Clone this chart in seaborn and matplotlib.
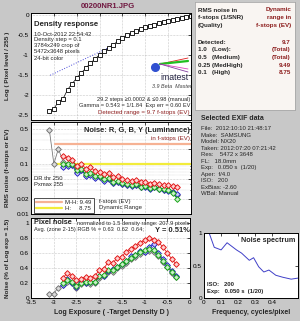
import numpy as np
import pandas as pd
import matplotlib
matplotlib.use("Agg")
import matplotlib.pyplot as plt
import seaborn as sns
from matplotlib.lines import Line2D
from matplotlib.ticker import FixedLocator, FuncFormatter, NullFormatter

nan = np.nan

# ---- data ----
log_exp = [-3.1, -3.0, -2.9, -2.8, -2.7, -2.6, -2.5, -2.4, -2.3, -2.2, -2.1, -2.0,
           -1.9, -1.8, -1.7, -1.6, -1.5, -1.4, -1.3, -1.2, -1.1, -1.0, -0.9, -0.8,
           -0.7, -0.6, -0.5, -0.4, -0.3, -0.2, -0.1, 0.0]
density = [-2.40, -2.35, -2.17, -2.10, -1.87, -1.72, -1.58, -1.45, -1.33, -1.21, -1.10, -1.00,
           -0.91, -0.82, -0.74, -0.66, -0.58, -0.51, -0.45, -0.40, -0.35, -0.31, -0.27, -0.24,
           -0.21, -0.18, -0.15, -0.12, -0.10, -0.07, -0.05, -0.02]
fit_x = [-3.08, -1.77]
fit_y = [-1.51, -0.80]

noise_x = log_exp[:29]
rms_y = [0.48, 0.10, 0.20, 0.11, 0.10, 0.095, 0.07, 0.075, 0.06, 0.062, 0.055, 0.055, 0.048,
         0.050, 0.042, 0.043, 0.040, 0.038, 0.037, 0.038, 0.035, 0.036, 0.033, 0.034, 0.032,
         0.030, 0.030, 0.028, 0.024]
rms_r = [nan, nan, nan, 0.145, 0.13, 0.12, 0.09, 0.10, 0.08, 0.085, 0.072, 0.07, 0.063, 0.066,
         0.055, 0.056, 0.050, 0.048, 0.046, 0.047, 0.043, 0.044, 0.040, 0.042, 0.040, 0.038,
         0.037, 0.036, 0.035]
rms_g = [nan, nan, nan, 0.10, 0.10, 0.10, 0.075, 0.078, 0.062, 0.066, 0.057, 0.057, 0.050, 0.052,
         0.044, 0.045, 0.041, 0.039, 0.038, 0.039, 0.035, 0.036, 0.033, 0.035, 0.032, 0.031,
         0.030, 0.026, 0.020]
rms_b = [nan, nan, nan, 0.085, 0.09, 0.095, 0.065, 0.075, 0.058, 0.060, 0.052, 0.055, 0.046, 0.050,
         0.041, 0.043, 0.039, 0.037, 0.036, 0.038, 0.034, 0.035, 0.032, 0.034, 0.031, 0.030,
         0.029, 0.027, 0.025]
thr_x = [-2.97, 0.0]
thr_mh = [0.25, 0.25]
thr_h = [0.1, 0.1]

pct_y = [0.05, 0.06, 0.14, 0.17, 0.22, 0.20, 0.14, 0.19, 0.20, 0.19, 0.20, 0.27, 0.29, 0.35,
         0.35, 0.40, 0.43, 0.47, 0.52, 0.55, 0.59, 0.61, 0.63, 0.62, 0.56, 0.48, 0.41, 0.34, 0.28]
pct_r = [nan, nan, nan, 0.27, 0.33, 0.30, 0.24, 0.26, 0.28, 0.27, 0.29, 0.37, 0.39, 0.48, 0.47,
         0.53, 0.55, 0.62, 0.66, 0.70, 0.74, 0.77, 0.80, 0.78, 0.75, 0.68, 0.60, 0.52, 0.45]
pct_g = [nan, nan, nan, 0.20, 0.24, 0.22, 0.16, 0.20, 0.22, 0.21, 0.22, 0.29, 0.31, 0.38, 0.37,
         0.42, 0.45, 0.50, 0.54, 0.58, 0.62, 0.64, 0.66, 0.64, 0.58, 0.50, 0.42, 0.35, 0.28]
pct_b = [nan, nan, nan, 0.18, 0.25, 0.20, 0.15, 0.21, 0.20, 0.22, 0.21, 0.30, 0.30, 0.36, 0.39,
         0.41, 0.46, 0.49, 0.56, 0.57, 0.63, 0.62, 0.68, 0.72, 0.60, 0.52, 0.44, 0.36, 0.30]

freq = [0.0, 0.03, 0.06, 0.10, 0.135, 0.19, 0.22, 0.265, 0.29, 0.32, 0.35, 0.38, 0.42, 0.46, 0.51, 0.56]
spectrum = [1.30, 1.0, 0.78, 0.74, 0.85, 0.74, 0.69, 0.58, 0.62, 0.48, 0.40, 0.43, 0.35, 0.32, 0.29, 0.31]

exif_lines = ["File:  2012:10:10 21:48:17", "Make:  SAMSUNG", "Model: NX20",
              "Taken: 2012:07:20 07:21:42", "Res:    5472 x 3648", "FL:   18.0mm",
              "Exp:   0.050 s  (1/20)", "Aper:  f/4.0", "ISO:   200", "ExBias: -2.60",
              "WBal: Manual"]

# ---- style ----
sns.set_theme(style="white")
plt.rcParams["font.family"] = ["Liberation Sans", "DejaVu Sans"]
W, H = 300, 321
BG = "#c8c8c8"
DKRED = "#8c1c1c"

fig = plt.figure(figsize=(W / 100, H / 100), dpi=100, facecolor=BG)


def box(x0, y0, x1, y1):
    return [x0 / W, 1 - y1 / H, (x1 - x0) / W, (y1 - y0) / H]


def put(x, y, s, **kw):
    kw.setdefault("fontsize", 4.3)
    kw.setdefault("va", "center")
    fig.text(x / W, 1 - y / H, s, **kw)


def style_ax(ax):
    ax.set_facecolor("white")
    for sp in ax.spines.values():
        sp.set_linewidth(0.7)
        sp.set_color("black")
    ax.tick_params(which="both", direction="in", top=True, right=True, length=2,
                   width=0.5, labelsize=4.6, pad=1.5, colors="black")
    ax.tick_params(which="minor", length=1)
    ax.grid(True, which="major", ls=":", lw=0.4, color="#9a9a9a")
    ax.set_xlabel("")
    ax.set_ylabel("")


fmt = FuncFormatter(lambda v, p: "%g" % v)
xt = [-3.5, -3.0, -2.5, -2.0, -1.5, -1.0, -0.5, 0.0]

# ---- density response ----
ax1 = fig.add_axes(box(31, 13, 191, 120))
sns.lineplot(x=fit_x, y=fit_y, ax=ax1, color="#4a4ad8", lw=0.7, ls=":")
sns.lineplot(x=log_exp, y=density, ax=ax1, color="black", lw=0.5, marker="s",
             markersize=3.5, markerfacecolor="white", markeredgecolor="black",
             markeredgewidth=0.6)
ax1.set_xlim(-3.5, 0)
ax1.set_ylim(-2.63, 0.05)
ax1.set_xticks(xt)
ax1.set_yticks([0, -0.5, -1, -1.5, -2, -2.5])
ax1.yaxis.set_major_formatter(fmt)
ax1.xaxis.set_major_formatter(NullFormatter())
style_ax(ax1)

# ---- RMS noise f-stops ----
ax2 = fig.add_axes(box(31, 122, 191, 214))
ax2.set_yscale("log")
sns.lineplot(x=thr_x, y=thr_mh, ax=ax2, color="#f6b294", lw=1.6)
sns.lineplot(x=thr_x, y=thr_h, ax=ax2, color="#f2ec3a", lw=1.6)
series = [(rms_y, "#707070", "#d8d8d8"), (rms_b, "#2020c0", "#c8c8ff"),
          (rms_g, "#10a010", "#c8f0c8"), (rms_r, "#e01010", "#ffd0d0")]
for vals, col, fc in series:
    sns.lineplot(x=noise_x, y=vals, ax=ax2, color=col, lw=0.55, marker="D", markersize=2.9,
                 markerfacecolor=fc, markeredgecolor=col, markeredgewidth=0.65)
ax2.set_xlim(-3.5, 0)
ax2.set_ylim(0.01, 0.68)
ax2.set_xticks(xt)
ax2.xaxis.set_major_formatter(NullFormatter())
ax2.yaxis.set_major_locator(FixedLocator([0.01, 0.02, 0.05, 0.1, 0.2, 0.5]))
ax2.yaxis.set_minor_locator(FixedLocator([0.03, 0.04, 0.06, 0.07, 0.08, 0.09, 0.3, 0.4, 0.6]))
ax2.yaxis.set_major_formatter(fmt)
ax2.yaxis.set_minor_formatter(NullFormatter())
style_ax(ax2)
ax2.grid(True, which="minor", axis="y", ls=":", lw=0.3, color="#b0b0b0")
leg = ax2.legend(handles=[Line2D([], [], color="#f6b294", lw=1.6),
                          Line2D([], [], color="#f2ec3a", lw=1.6)],
                 labels=["M-H: 9.49", "H:     8.75"], loc="lower left",
                 bbox_to_anchor=(0.01, 0.0), fontsize=4.3, frameon=True, fancybox=False,
                 handlelength=4.5, handletextpad=0.5, borderpad=0.3, labelspacing=0.15,
                 borderaxespad=0.2)
leg.get_frame().set_edgecolor("black")
leg.get_frame().set_linewidth(0.6)

# ---- pixel noise % ----
ax3 = fig.add_axes(box(31, 218, 190, 298))
pct_series = [(pct_y, "#707070", "#d8d8d8"), (pct_b, "#2020c0", "#c8c8ff"),
              (pct_g, "#10a010", "#c8f0c8"), (pct_r, "#e01010", "#ffd0d0")]
for vals, col, fc in pct_series:
    sns.lineplot(x=noise_x, y=vals, ax=ax3, color=col, lw=0.55, marker="D", markersize=2.9,
                 markerfacecolor=fc, markeredgecolor=col, markeredgewidth=0.65)
ax3.set_xlim(-3.5, 0)
ax3.set_ylim(0, 1.067)
ax3.set_xticks(xt)
ax3.set_yticks([0, 0.2, 0.4, 0.6, 0.8, 1.0])
ax3.xaxis.set_major_formatter(fmt)
ax3.yaxis.set_major_formatter(fmt)
style_ax(ax3)

# ---- noise spectrum ----
ax4 = fig.add_axes(box(204, 233, 298, 298))
sns.lineplot(x=freq, y=spectrum, ax=ax4, color="#4040c8", lw=0.7)
ax4.set_xlim(0, 0.55)
ax4.set_ylim(0, 1)
ax4.set_xticks([0, 0.1, 0.2, 0.3, 0.4])
ax4.set_yticks([0, 0.5, 1])
ax4.xaxis.set_major_formatter(fmt)
ax4.yaxis.set_major_formatter(fmt)
style_ax(ax4)
ax4.grid(False)

# ---- info box ----
axi = fig.add_axes(box(195, 2, 295, 110))
axi.set_facecolor("#f9f5f2")
axi.set_xticks([])
axi.set_yticks([])
for sp in axi.spines.values():
    sp.set_color("#a8a8a8")
    sp.set_linewidth(0.6)

# ---- texts ----
put(108, 7, "00200NR1.JPG", ha="center", fontsize=5.6, weight="bold", color="#701840")
put(34, 24, "Density response", fontsize=5.6, weight="bold")
for i, s in enumerate(["10-Oct-2012 22:54:42", "Density step = 0.1", "3784x249 crop of",
                       "5472x3648 pixels", "24-bit color"]):
    put(34, 34 + 6 * i, s, fontsize=4.2)
put(174, 77, "imatest", ha="center", fontsize=6.3, color="#202040")
put(172, 86, "3.9 Beta  Master", ha="center", fontsize=3.9, style="italic", color="#404040")
fig.add_artist(Line2D([155 / W], [1 - 67 / H], marker="o", ms=5.5, color="#3050d0",
                      transform=fig.transFigure))
for y_end, col, lw in [(58, "#e02020", 0.6), (61, "#20c020", 1.6), (69, "#e040c0", 0.6),
                       (72, "#8040a0", 0.6)]:
    fig.add_artist(Line2D([160 / W, 188 / W], [1 - 64 / H, 1 - y_end / H], color=col, lw=lw,
                          transform=fig.transFigure))
put(190, 100, "29.2 steps \u22650.0002 & \u22640.98 (manual)", ha="right", fontsize=4.1)
put(190, 106, "Gamma = 0.543 = 1/1.84  Exp err = 0.60 EV", ha="right", fontsize=4.1)
put(190, 113, "Detected range = 9.7 f-stops (EV)", ha="right", fontsize=4.4, color=DKRED)

put(84, 131, "Noise: R, G, B, Y (Luminance)", fontsize=5.4, weight="bold")
put(190, 138, "in f-stops (EV)", ha="right", fontsize=4.4, color=DKRED)
put(34, 179, "DR thr 250", fontsize=4.2)
put(34, 185, "Pxmax 255", fontsize=4.2)
put(99, 202, "f-stops (EV)", fontsize=4.3)
put(99, 208, "Dynamic Range", fontsize=4.3)

put(34, 223, "Pixel noise", fontsize=5.2, weight="bold")
put(77, 223, "normalized to 1.5 density range: 207.9 pixels", fontsize=4.1)
put(34, 230, "Avg. (zone 2-15) RGB % = 0.63  0.62  0.64;", fontsize=4.1)
put(155, 230, "Y = 0.51%", fontsize=5.4, weight="bold")

put(8, 66, "Log ( Pixel level / 255 )", rotation=90, ha="center", fontsize=4.6, weight="bold")
put(8, 168, "RMS noise (f-stops or EV)", rotation=90, ha="center", fontsize=4.6, weight="bold")
put(8, 258, "Noise (% of Log exp = 1.5)", rotation=90, ha="center", fontsize=4.6, weight="bold")
put(112, 312, "Log Exposure ( -Target Density D )", ha="center", fontsize=5.0, weight="bold")
put(251, 312, "Frequency, cycles/pixel", ha="center", fontsize=5.0, weight="bold")

put(198, 10, "RMS noise in", fontsize=4.5, weight="bold")
put(198, 17, "f-stops (1/SNR)", fontsize=4.5, weight="bold")
put(198, 25, "(Quality)", fontsize=4.5, weight="bold")
put(291, 10, "Dynamic", ha="right", fontsize=4.5, weight="bold", color=DKRED)
put(291, 17, "range in", ha="right", fontsize=4.5, weight="bold", color=DKRED)
put(291, 25, "f-stops (EV)", ha="right", fontsize=4.5, weight="bold", color=DKRED)
rows = [("Detected:", "9.7"), ("1.0   (Low):", "(Total)"), ("0.5   (Medium)", "(Total)"),
        ("0.25 (MedHigh)", "9.49"), ("0.1   (High)", "8.75")]
for i, (a, b) in enumerate(rows):
    y = 42 + 7.7 * i
    put(198, y, a, fontsize=4.5, weight="bold")
    put(291, y, b, ha="right", fontsize=4.5, weight="bold", color=DKRED)

put(201, 118, "Selected EXIF data", fontsize=5.0, weight="bold")
for i, s in enumerate(exif_lines):
    put(201, 129 + 6.45 * i, s, fontsize=4.3)

put(295, 241, "Noise spectrum", ha="right", fontsize=5.2, weight="bold")
put(207, 285, "ISO:   200", fontsize=4.2, weight="bold")
put(207, 292, "Exp:   0.050 s  (1/20)", fontsize=4.2, weight="bold")

fig.savefig("out.png", dpi=100, facecolor=BG)
